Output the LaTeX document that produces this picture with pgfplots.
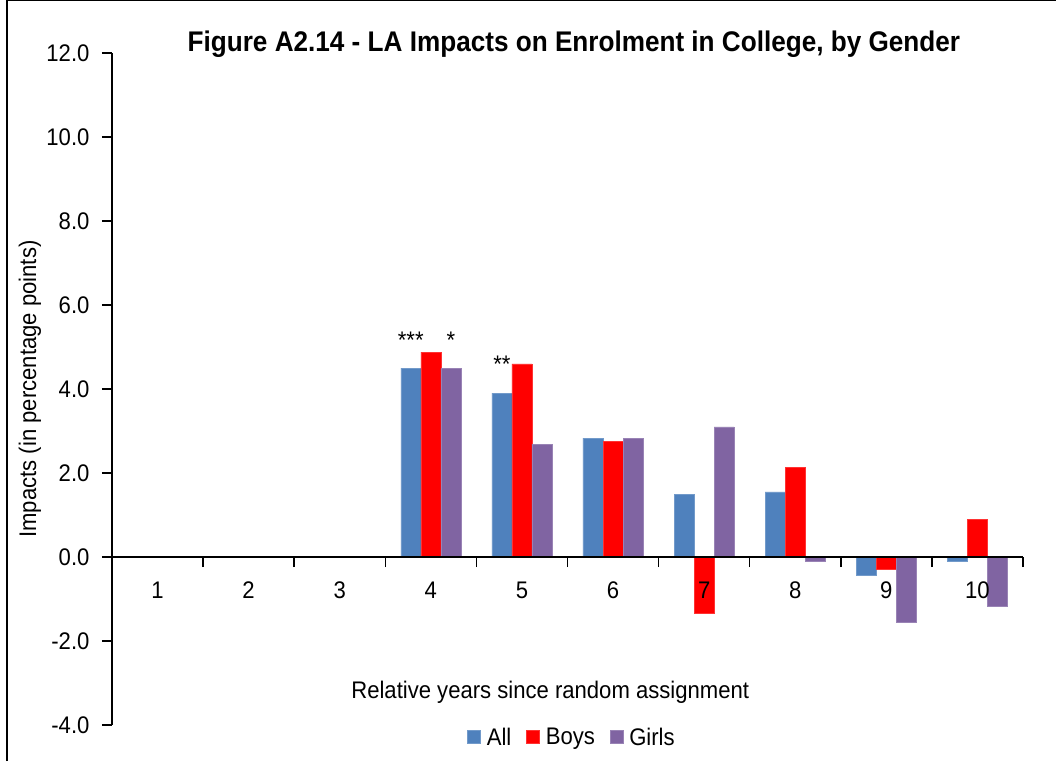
\documentclass[border=0pt]{standalone}
\usepackage{fontspec}
\setmainfont{Liberation Sans}[FakeStretch=0.92]
\usepackage{pgfplots}
\pgfplotsset{compat=1.18}

\definecolor{cAll}{HTML}{4F81BD}
\definecolor{cBoys}{HTML}{FF0000}
\definecolor{cGirls}{HTML}{8064A2}

\begin{document}
\begin{tikzpicture}
\begin{axis}[
  scale only axis,
  width=911pt, height=672pt,
  xmin=0.5, xmax=10.5,
  ymin=-4, ymax=12,
  axis y line=left,
  axis x line=middle,
  axis line style={-, line width=1.5pt, black},
  axis on top,
  ybar=0pt,
  bar width=0.22,
  font=\fontsize{24}{28}\selectfont,
  /pgf/number format/assume math mode=true,
  ytick={-4,-2,...,12},
  yticklabel style={xshift=-9pt, /pgf/number format/.cd, fixed, fixed zerofill, precision=1},
  y tick style={line width=1.5pt, black},
  ytick align=outside,
  major tick length=10pt,
  xtick={0.5,1.5,...,10.5},
  xticklabels={},
  x tick style={line width=1.5pt, black},
  xtick align=outside,
  extra x ticks={1,...,10},
  extra x tick labels={1,2,3,4,5,6,7,8,9,10},
  extra x tick style={major tick length=0pt, xticklabel style={anchor=base, yshift=-41pt}},
  ylabel={Impacts (in percentage points)},
  ylabel style={at={(axis description cs:-0.09,0.5)}, anchor=center},
  xlabel={Relative years since random assignment},
  xlabel style={at={(axis description cs:0.481,0.049)}, anchor=center},
  title={\bfseries Figure A2.14 - LA Impacts on Enrolment in College, by Gender},
  title style={at={(axis description cs:0.507,0.994)}, anchor=base, font=\fontsize{28.4}{32}\selectfont},
  legend style={draw=none, fill=none, at={(axis description cs:0.505,-0.018)}, anchor=center,
    legend columns=-1,
    /tikz/every odd column/.append style={column sep=4pt},
    /tikz/every even column/.append style={column sep=13pt},
    font=\fontsize{24}{28}\selectfont},
  legend image code/.code={\fill[#1] (0pt,-6.5pt) rectangle (13pt,6.5pt);},
]
\addplot[fill=cAll, draw=cAll!80!white] coordinates {(4,4.5)(5,3.9)(6,2.83)(7,1.5)(8,1.55)(9,-0.43)(10,-0.1)};
\addlegendentry{All}
\addplot[fill=cBoys, draw=cBoys!80!white] coordinates {(4,4.88)(5,4.6)(6,2.76)(7,-1.33)(8,2.14)(9,-0.3)(10,0.9)};
\addlegendentry{Boys}
\addplot[fill=cGirls, draw=cGirls!80!white] coordinates {(4,4.5)(5,2.69)(6,2.83)(7,3.1)(8,-0.1)(9,-1.55)(10,-1.17)};
\addlegendentry{Girls}

\node[font=\fontsize{24}{26}\selectfont] at (axis cs:3.78,5.15) {***};
\node[font=\fontsize{24}{26}\selectfont] at (axis cs:4.22,5.15) {*};
\node[font=\fontsize{24}{26}\selectfont] at (axis cs:4.78,4.6) {**};

\coordinate (bl) at (axis description cs:-0.1229,-0.0536);
\coordinate (tr) at (axis description cs:1.0362,1.0789);
\coordinate (fl) at (axis description cs:-0.1153,-0.0536);
\coordinate (ft) at (axis description cs:-0.1153,1.0779);
\coordinate (fr) at (axis description cs:1.0362,1.0779);
\end{axis}
\pgfresetboundingbox
\path[use as bounding box] (bl) rectangle (tr);
\draw[line width=1.5pt] (fl) -- (ft) -- (fr);
\end{tikzpicture}
\end{document}
